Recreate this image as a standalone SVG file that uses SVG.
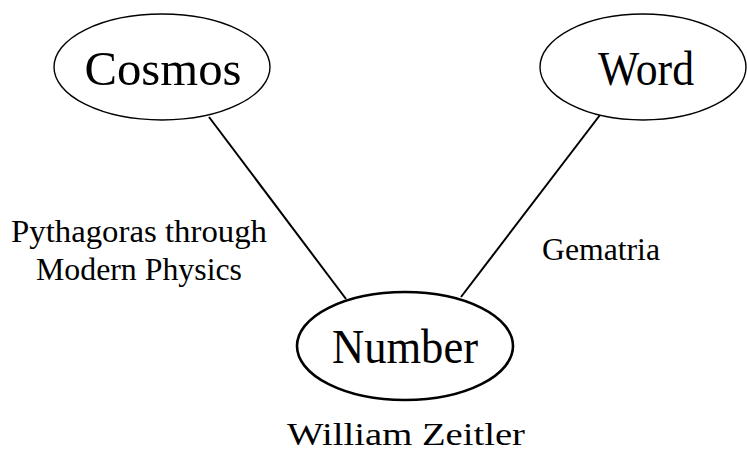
<svg xmlns="http://www.w3.org/2000/svg" width="747" height="456" viewBox="0 0 747 456">
<style>
text{font-family:"Liberation Serif","Times New Roman",serif;fill:#000;text-anchor:middle}
.big{font-size:49px}
.lbl{font-size:31px}
ellipse{fill:#fff;stroke:#000;stroke-width:1.4}
.thick{stroke-width:2.6}
line{stroke:#000;stroke-width:2}
</style>
<rect width="747" height="456" fill="#fff"/>
<g id="connectors">
<line x1="209" y1="117" x2="346" y2="299"/>
<line x1="600" y1="115" x2="461" y2="297"/>
</g>
<g id="cosmos">
<ellipse cx="162" cy="67" rx="108" ry="53"/>
<text class="big" x="163" y="85" textLength="157" lengthAdjust="spacingAndGlyphs">Cosmos</text>
</g>
<g id="word">
<ellipse cx="643" cy="67" rx="103" ry="53"/>
<text class="big" x="646" y="85" textLength="96" lengthAdjust="spacingAndGlyphs">Word</text>
</g>
<g id="number">
<ellipse class="thick" cx="405" cy="346" rx="108" ry="54"/>
<text class="big" x="405" y="363" textLength="146" lengthAdjust="spacingAndGlyphs">Number</text>
</g>
<g id="labels">
<text class="lbl" x="139" y="242" textLength="256" lengthAdjust="spacingAndGlyphs">Pythagoras through</text>
<text class="lbl" x="139" y="280" textLength="206" lengthAdjust="spacingAndGlyphs">Modern Physics</text>
<text class="lbl" x="601" y="260" textLength="118" lengthAdjust="spacingAndGlyphs">Gematria</text>
<text class="lbl" x="406" y="445" textLength="238" lengthAdjust="spacingAndGlyphs">William Zeitler</text>
</g>
</svg>
